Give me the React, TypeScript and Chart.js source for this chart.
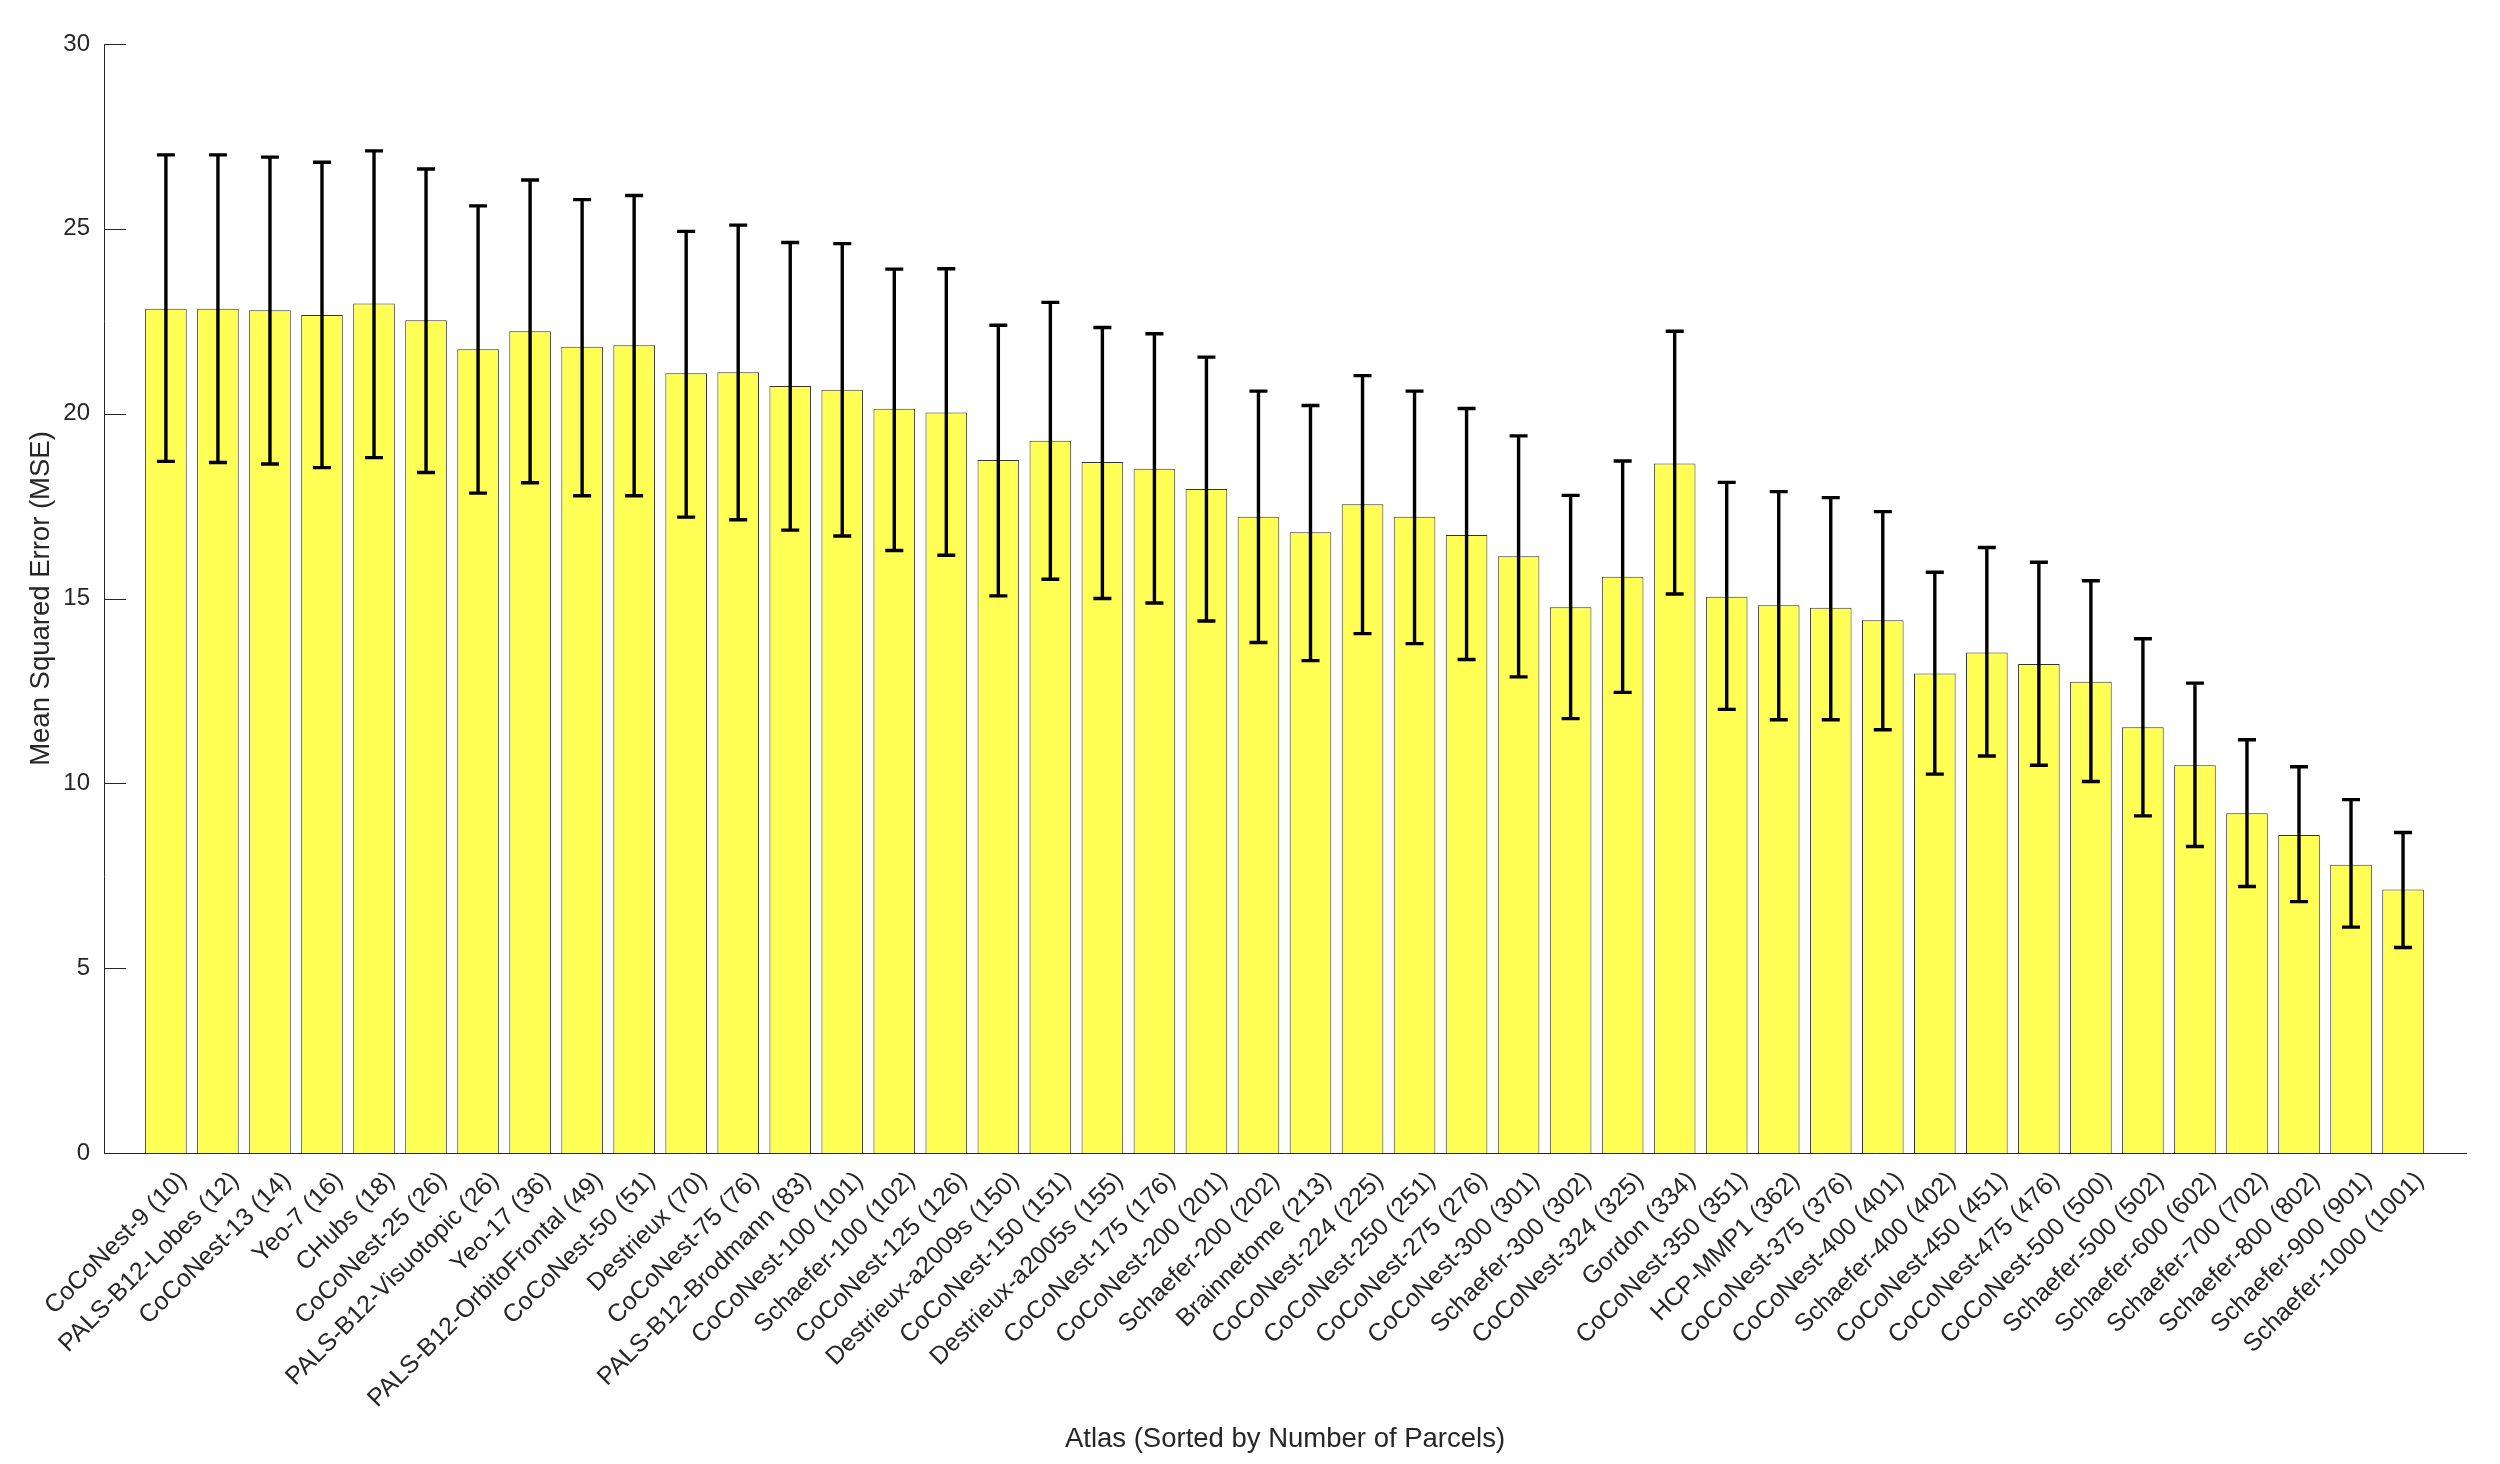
import React, { useEffect, useRef } from "react";
import { Chart, registerables } from "chart.js";

Chart.register(...registerables);

const atlasLabels = [
  "CoCoNest-9 (10)", "PALS-B12-Lobes (12)", "CoCoNest-13 (14)", "Yeo-7 (16)", "CHubs (18)",
  "CoCoNest-25 (26)", "PALS-B12-Visuotopic (26)", "Yeo-17 (36)", "PALS-B12-OrbitoFrontal (49)", "CoCoNest-50 (51)",
  "Destrieux (70)", "CoCoNest-75 (76)", "PALS-B12-Brodmann (83)", "CoCoNest-100 (101)", "Schaefer-100 (102)",
  "CoCoNest-125 (126)", "Destrieux-a2009s (150)", "CoCoNest-150 (151)", "Destrieux-a2005s (155)", "CoCoNest-175 (176)",
  "CoCoNest-200 (201)", "Schaefer-200 (202)", "Brainnetome (213)", "CoCoNest-224 (225)", "CoCoNest-250 (251)",
  "CoCoNest-275 (276)", "CoCoNest-300 (301)", "Schaefer-300 (302)", "CoCoNest-324 (325)", "Gordon (334)",
  "CoCoNest-350 (351)", "HCP-MMP1 (362)", "CoCoNest-375 (376)", "CoCoNest-400 (401)", "Schaefer-400 (402)",
  "CoCoNest-450 (451)", "CoCoNest-475 (476)", "CoCoNest-500 (500)", "Schaefer-500 (502)", "Schaefer-600 (602)",
  "Schaefer-700 (702)", "Schaefer-800 (802)", "Schaefer-900 (901)", "Schaefer-1000 (1001)",
];

const mseMean = [
  22.84, 22.84, 22.80, 22.67, 22.98, 22.53, 21.74, 22.23, 21.81, 21.85,
  21.09, 21.12, 20.75, 20.65, 20.13, 20.03, 18.75, 19.27, 18.69, 18.51,
  17.96, 17.21, 16.79, 17.55, 17.21, 16.72, 16.14, 14.76, 15.59, 18.65,
  15.05, 14.82, 14.75, 14.41, 12.97, 13.54, 13.23, 12.75, 11.52, 10.49,
  9.19, 8.60, 7.80, 7.13,
];

const errLower = [
  18.71, 18.68, 18.64, 18.54, 18.81, 18.41, 17.85, 18.13, 17.78, 17.78,
  17.20, 17.13, 16.85, 16.69, 16.30, 16.17, 15.07, 15.52, 15.00, 14.88,
  14.39, 13.81, 13.32, 14.05, 13.78, 13.35, 12.88, 11.75, 12.46, 15.12,
  12.00, 11.72, 11.72, 11.45, 10.25, 10.74, 10.49, 10.05, 9.12, 8.29,
  7.21, 6.80, 6.11, 5.56,
];

const errUpper = [
  27.00, 27.00, 26.94, 26.80, 27.11, 26.62, 25.62, 26.32, 25.79, 25.90,
  24.93, 25.10, 24.63, 24.60, 23.91, 23.92, 22.39, 23.01, 22.33, 22.16,
  21.53, 20.61, 20.22, 21.03, 20.61, 20.14, 19.40, 17.79, 18.72, 22.23,
  18.14, 17.89, 17.73, 17.35, 15.71, 16.38, 15.98, 15.48, 13.91, 12.71,
  11.18, 10.45, 9.56, 8.67,
];

const yTickValues = [0, 5, 10, 15, 20, 25, 30];

const xTitle = "Atlas (Sorted by Number of Parcels)";
const yTitle = "Mean Squared Error (MSE)";

const AXIS_COLOR = "#262626";

const innerTicksPlugin = {
  id: "innerTicks",
  beforeDatasetsDraw(chart: any) {
    const { ctx, chartArea } = chart;
    const y = chart.scales.y;
    ctx.save();
    ctx.strokeStyle = AXIS_COLOR;
    ctx.lineWidth = 1;
    y.ticks.forEach((t: any) => {
      const py = Math.round(y.getPixelForValue(t.value)) + 0.5;
      ctx.beginPath();
      ctx.moveTo(chartArea.left, py);
      ctx.lineTo(chartArea.left + 22, py);
      ctx.stroke();
    });
    ctx.restore();
  },
};

const errorBarsPlugin = {
  id: "errorBars",
  afterDatasetsDraw(chart: any) {
    const { ctx } = chart;
    const meta = chart.getDatasetMeta(0);
    const y = chart.scales.y;
    ctx.save();
    ctx.strokeStyle = "#000000";
    ctx.lineWidth = 3.4;
    ctx.lineCap = "butt";
    meta.data.forEach((bar: any, i: number) => {
      const x = bar.x;
      const yLo = y.getPixelForValue(errLower[i]);
      const yHi = y.getPixelForValue(errUpper[i]);
      const half = 9;
      ctx.beginPath();
      ctx.moveTo(x, yLo);
      ctx.lineTo(x, yHi);
      ctx.moveTo(x - half, yHi);
      ctx.lineTo(x + half, yHi);
      ctx.moveTo(x - half, yLo);
      ctx.lineTo(x + half, yLo);
      ctx.stroke();
    });
    ctx.restore();
  },
};

export default function App() {
  const canvasRef = useRef<HTMLCanvasElement | null>(null);

  useEffect(() => {
    document.body.style.margin = "0";
    const canvas = canvasRef.current;
    if (!canvas) return;
    Chart.defaults.font.family = "'Liberation Sans', Arial, Helvetica, sans-serif";
    const chart = new Chart(canvas, {
      type: "bar",
      data: {
        datasets: [
          {
            data: mseMean.map((v, i) => ({ x: i, y: v })),
            backgroundColor: "#ffff55",
            borderColor: "#333333",
            borderWidth: 1,
            barPercentage: 0.8,
            categoryPercentage: 1.0,
          },
        ],
      },
      options: {
        animation: false,
        responsive: true,
        maintainAspectRatio: false,
        layout: { padding: { top: 44, right: 34, left: 0, bottom: 0 } },
        plugins: { legend: { display: false }, tooltip: { enabled: false } },
        scales: {
          x: {
            type: "linear",
            offset: false,
            min: -1.19,
            max: 44.21,
            afterBuildTicks: (scale: any) => {
              scale.ticks = atlasLabels.map((_, i) => ({ value: i }));
            },
            afterFit: (scale: any) => {
              scale.height = 311;
              scale.paddingLeft = 0;
              scale.paddingRight = 0;
            },
            ticks: {
              autoSkip: false,
              maxRotation: 45,
              minRotation: 45,
              padding: 13,
              labelOffset: 17,
              color: AXIS_COLOR,
              font: { size: 25 },
              callback: (value: any) => atlasLabels[value as number] ?? "",
            },
            grid: { display: false, drawTicks: false, offset: false },
            border: { display: true, color: AXIS_COLOR, width: 1 },
            title: {
              display: true,
              text: xTitle,
              color: AXIS_COLOR,
              font: { size: 27.5 },
              padding: { top: 0, bottom: 8 },
            },
          },
          y: {
            type: "linear",
            min: 0,
            max: 30,
            afterBuildTicks: (scale: any) => {
              scale.ticks = yTickValues.map((v) => ({ value: v }));
            },
            afterFit: (scale: any) => {
              scale.width = 104;
              scale.paddingTop = 0;
              scale.paddingBottom = 0;
            },
            ticks: {
              padding: 14,
              color: AXIS_COLOR,
              font: { size: 24 },
            },
            grid: { display: false, drawTicks: false },
            border: { display: true, color: AXIS_COLOR, width: 1 },
            title: {
              display: true,
              text: yTitle,
              color: AXIS_COLOR,
              font: { size: 27.5 },
              padding: { top: 25, bottom: 0 },
            },
          },
        },
      },
      plugins: [innerTicksPlugin, errorBarsPlugin],
    });
    return () => chart.destroy();
  }, []);

  return (
    <div style={{ position: "fixed", left: 0, top: 0, width: "100vw", height: "100vh", background: "#ffffff" }}>
      <canvas ref={canvasRef} />
    </div>
  );
}
